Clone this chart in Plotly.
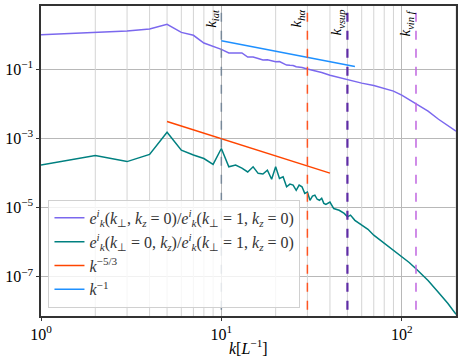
import numpy as np
import plotly.graph_objects as go

# spectra (normalised energy vs k)
k_perp = [1, 2, 3, 4, 5, 6, 7, 8, 9, 10, 11, 12, 13, 14, 15, 16, 17, 18, 19, 20,
          21, 22, 23, 24, 25, 26, 28, 30, 33, 36, 40, 45, 50, 55, 60, 70, 80, 90,
          100, 110, 120, 140, 160, 180, 200]
e_perp = [1.0, 1.18, 1.29, 1.47, 2.01, 1.18, 0.97, 0.58, 0.47, 0.38, 0.30, 0.296,
          0.30, 0.227, 0.227, 0.206, 0.186, 0.19, 0.174, 0.166, 0.168, 0.152, 0.133,
          0.131, 0.13, 0.119, 0.113, 0.102, 0.092, 0.081, 0.068, 0.058, 0.049, 0.044,
          0.040, 0.034, 0.0287, 0.0235, 0.018, 0.0133, 0.0099, 0.0062, 0.0036,
          0.00235, 0.00163]

k_par = [1, 2, 3, 4, 5, 6, 7, 8, 9, 10, 11, 12, 13, 14, 15, 16, 17, 18, 19, 20,
         21, 22, 23, 24, 25, 26, 27, 28, 29, 30, 31, 32, 33, 34, 35, 36, 37, 38, 40,
         42, 45, 48, 50, 52, 55, 60, 65, 70, 80, 90, 100, 110, 120, 140, 160, 180, 200]
log_e_par = [-3.77, -3.49, -3.67, -3.46, -2.82, -3.34, -3.48, -3.58, -3.75, -3.29,
             -3.82, -3.77, -3.86, -3.97, -3.82, -4.01, -4.03, -3.92, -4.18, -3.82,
             -4.16, -4.11, -4.40, -4.32, -4.35, -4.50, -4.35, -4.40, -4.59, -4.55,
             -4.79, -4.67, -4.64, -4.76, -4.79, -4.73, -4.88, -4.91, -4.84, -5.03,
             -5.08, -5.17, -5.27, -5.22, -5.37, -5.51, -5.63, -5.80, -6.03, -6.24,
             -6.40, -6.59, -6.77, -7.11, -7.46, -7.77, -8.09]
e_par = [10 ** v for v in log_e_par]

# reference power laws (end points)
k_53 = [5, 40]
e_53 = [3.1e-3, 9.9e-5]
k_1 = [10, 55]
e_1 = [0.67, 0.122]

# characteristic wavenumbers
k_marks = [10, 30, 50, 120]
k_mark_labels = ["<i>k<sub>iat</sub></i>", "<i>k<sub>hα</sub></i>",
                 "<i>k<sub>vsup</sub></i>", "<i>k<sub>vin f</sub></i>"]
k_mark_colors = ["#778899", "#FF5522", "#5E2CA5", "#C066E0"]
k_mark_widths = [1.5, 1.5, 2.2, 1.5]

x_tickvals = [1, 10, 100]
x_ticktext = ["10<sup>0</sup>", "10<sup>1</sup>", "10<sup>2</sup>"]
x_minor = [m * d for d in (1, 10, 100) for m in range(2, 10) if m * d <= 200]
y_tickvals = [1e-7, 1e-5, 1e-3, 1e-1]
y_ticktext = ["10<sup>−7</sup>", "10<sup>−5</sup>", "10<sup>−3</sup>", "10<sup>−1</sup>"]

font = "Liberation Serif"
fig = go.Figure()

# minor vertical grid lines
for xm in x_minor:
    fig.add_trace(go.Scatter(x=[xm, xm], y=[1e-9, 10], mode="lines",
                             line=dict(color="#d4d4d4", width=1),
                             showlegend=False, hoverinfo="skip"))

fig.add_trace(go.Scatter(
    x=k_perp, y=e_perp, mode="lines",
    name="<i>e<sup>i</sup><sub>k</sub></i>(<i>k</i><sub>⊥</sub>, <i>k<sub>z</sub></i> = 0)/<i>e<sup>i</sup><sub>k</sub></i>(<i>k</i><sub>⊥</sub> = 1, <i>k<sub>z</sub></i> = 0)",
    line=dict(color="#7B68EE", width=1.5)))
fig.add_trace(go.Scatter(
    x=k_par, y=e_par, mode="lines",
    name="<i>e<sup>i</sup><sub>k</sub></i>(<i>k</i><sub>⊥</sub> = 0, <i>k<sub>z</sub></i>)/<i>e<sup>i</sup><sub>k</sub></i>(<i>k</i><sub>⊥</sub> = 1, <i>k<sub>z</sub></i> = 0)",
    line=dict(color="#008080", width=1.5)))
fig.add_trace(go.Scatter(x=k_53, y=e_53, mode="lines",
                         name="<i>k</i><sup>−5/3</sup>",
                         line=dict(color="#FF4500", width=1.5)))
fig.add_trace(go.Scatter(x=k_1, y=e_1, mode="lines",
                         name="<i>k</i><sup>−1</sup>",
                         line=dict(color="#1E90FF", width=1.5)))

for kv, lab, col, w in zip(k_marks, k_mark_labels, k_mark_colors, k_mark_widths):
    fig.add_trace(go.Scatter(x=[kv, kv], y=[1e-9, 10], mode="lines",
                             line=dict(color=col, width=w, dash="dash"),
                             showlegend=False, hoverinfo="skip"))
    fig.add_annotation(x=np.log10(kv), y=1, xref="x", yref="paper",
                       text=lab, textangle=-90, showarrow=False,
                       xanchor="right", yanchor="top", xshift=1, yshift=-1,
                       font=dict(family=font, size=15, color="black"))

# x axis title as an annotation so it sits where the reference has it
fig.add_annotation(x=0.5, y=-0.1, xref="paper", yref="paper",
                   text="<i>k</i>[<i>L</i><sup>−1</sup>]", showarrow=False,
                   xanchor="center", yanchor="middle",
                   font=dict(family=font, size=16, color="black"))

fig.update_xaxes(type="log", range=[0, np.log10(200)], automargin=False,
                 tickvals=x_tickvals, ticktext=x_ticktext,
                 showgrid=True, gridcolor="#b8b8b8", gridwidth=1,
                 ticks="outside", ticklen=3, tickcolor="#333",
                 showline=True, linecolor="#333", linewidth=1.5, mirror=True,
                 zeroline=False,
                 tickfont=dict(family=font, size=16, color="black"))
fig.update_yaxes(type="log", range=[-8.14, 0.835], automargin=False,
                 tickvals=y_tickvals, ticktext=y_ticktext,
                 showgrid=True, gridcolor="#b8b8b8", gridwidth=1,
                 ticks="outside", ticklen=3, tickcolor="#333",
                 showline=True, linecolor="#333", linewidth=1.5, mirror=True,
                 zeroline=False,
                 tickfont=dict(family=font, size=16, color="black"))

fig.update_layout(
    width=463, height=362,
    margin=dict(l=41, r=7, t=6, b=46),
    paper_bgcolor="white", plot_bgcolor="white",
    font=dict(family=font, size=14, color="#333"),
    legend=dict(x=0.018, y=0.026, xanchor="left", yanchor="bottom",
                bgcolor="rgba(255,255,255,0.8)", bordercolor="#d0d0d0",
                borderwidth=1, itemwidth=30, tracegroupgap=0,
                font=dict(family=font, size=16, color="#333")),
)

# the page body has a default 8px margin; drop it so the figure fills the window
fig.write_html("out.html", config={"displayModeBar": False},
               post_script="document.body.style.margin='0';")
